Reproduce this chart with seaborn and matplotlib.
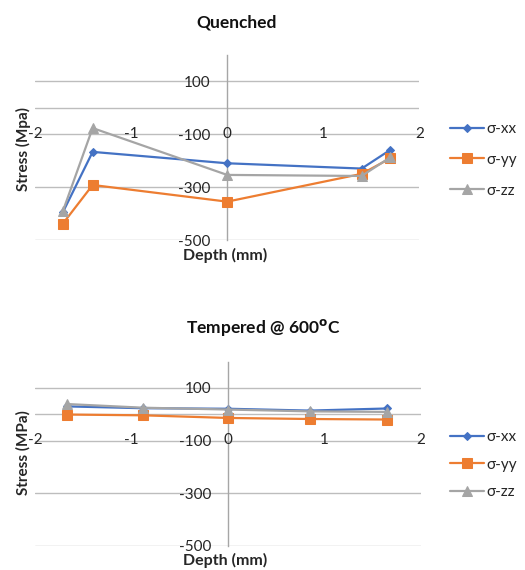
import matplotlib
matplotlib.use("Agg")
import matplotlib.pyplot as plt
import seaborn as sns
import pandas as pd

sns.set_theme(style="white")
plt.rcParams['font.family'] = ['Lato', 'DejaVu Sans']

# ---- data ----
components = ["σ-xx", "σ-yy", "σ-zz"]
q_depth = [-1.71, -1.40, 0.0, 1.40, 1.70]
q_xx = [-394, -166, -209, -229, -158]
q_yy = [-437, -291, -354, -249, -190]
q_zz = [-390, -76, -253, -257, -186]

t_depth = [-1.67, -0.88, 0.0, 0.85, 1.65]
t_xx = [30, 23, 21, 14, 22]
t_yy = [-1, -4, -14, -18, -20]
t_zz = [39, 25, 18, 11, 9]

x_ticks = [-2, -1, 0, 1, 2]
y_ticks = [100, -100, -300, -500]
grid_levels = [100, 0, -100, -300, -500]

colors = {"σ-xx": "#4472C4", "σ-yy": "#ED7D31", "σ-zz": "#A5A5A5"}
markers = {"σ-xx": "D", "σ-yy": "s", "σ-zz": "^"}
msizes = {"σ-xx": 4.5, "σ-yy": 6.5, "σ-zz": 6.5}


def make_df(depth, xx, yy, zz):
    rows = []
    for comp, vals in zip(components, [xx, yy, zz]):
        for d, v in zip(depth, vals):
            rows.append({"Depth": d, "Stress": v, "Component": comp})
    return pd.DataFrame(rows)


fig = plt.figure(figsize=(5.25, 5.7), dpi=100)
W, H = 525, 570
TXT = "#262626"


def panel(rect_px, df, title, title_xy, ylabel, ylabel_y, xlabel_y, legend_y, lspacing):
    l, t, r, b = rect_px
    ax = fig.add_axes([l / W, 1 - b / H, (r - l) / W, (b - t) / H])
    for lvl in grid_levels:
        ax.axhline(lvl, color="#BDBDBD", lw=1.0, zorder=0)
    for comp in components:
        sub = df[df["Component"] == comp]
        sns.lineplot(data=sub, x="Depth", y="Stress", ax=ax, color=colors[comp],
                     marker=markers[comp], markersize=msizes[comp],
                     markeredgecolor=colors[comp], lw=1.6, label=comp,
                     sort=False, zorder=3)
    ax.set_xlim(-2, 2)
    ax.set_ylim(-500, 200)
    for s in ["top", "right", "bottom"]:
        ax.spines[s].set_visible(False)
    ax.spines["left"].set_position(("data", 0))
    ax.spines["left"].set_color("#A6A6A6")
    ax.spines["left"].set_linewidth(1.0)
    ax.set_yticks(y_ticks)
    ax.set_yticklabels([str(v) for v in y_ticks])
    ax.tick_params(axis="y", length=0, pad=12, labelsize=11, labelcolor=TXT)
    ax.set_xticks([])
    for xt in x_ticks:
        ax.text(xt, -97, str(xt), ha="center", va="center", fontsize=11,
                color=TXT, zorder=4)
    ax.set_xlabel("")
    ax.set_ylabel("")
    fig.text(title_xy[0] / W, 1 - title_xy[1] / H, title, ha="center", va="center",
             fontsize=12.5, fontweight="bold", color="#111111")
    fig.text(23 / W, 1 - ylabel_y / H, ylabel, rotation=90, ha="center", va="center",
             fontsize=11, fontweight="bold", color=TXT)
    fig.text(225 / W, 1 - xlabel_y / H, "Depth (mm)", ha="center", va="center",
             fontsize=11.5, fontweight="bold", color=TXT)
    leg = ax.legend(loc="upper left", bbox_to_anchor=(450 / W, 1 - legend_y / H),
                    bbox_transform=fig.transFigure, frameon=False, fontsize=11,
                    handlelength=2.2, handletextpad=0.2, labelspacing=lspacing,
                    borderaxespad=0, borderpad=0)
    for txt in leg.get_texts():
        txt.set_color(TXT)
    return ax


panel((35, 55, 419.3, 240.3), make_df(q_depth, q_xx, q_yy, q_zz), "Quenched",
      (237, 22), "Stress (Mpa)", 149, 255, 122, 1.1)
panel((35, 361.7, 420.7, 545.7), make_df(t_depth, t_xx, t_yy, t_zz),
      "Tempered @ 600$^{\\mathbf{o}}$C", (263, 327), "Stress (MPa)", 453, 560, 430, 0.9)

fig.savefig("out.png", dpi=100)
